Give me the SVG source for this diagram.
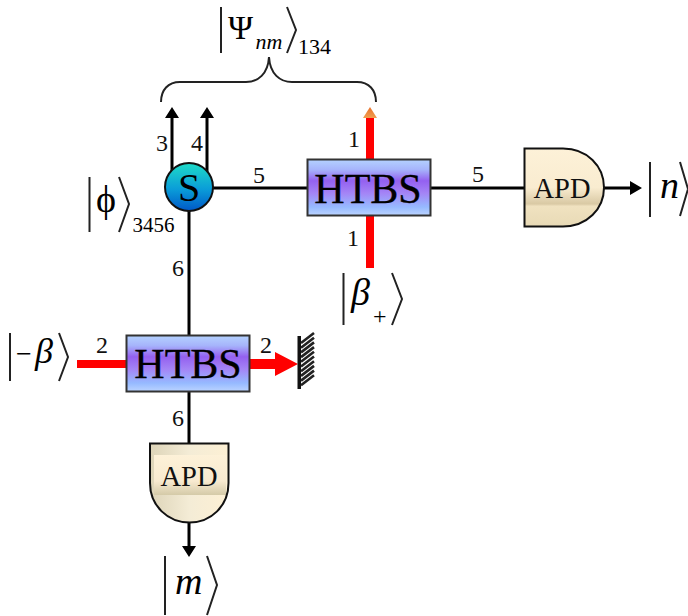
<svg xmlns="http://www.w3.org/2000/svg" width="688" height="616" viewBox="0 0 688 616">
<style>
text{font-family:"Liberation Serif","Times New Roman",serif;fill:#000}
.n{font-size:24px;text-anchor:middle;fill:#111}
.h{font-size:42px;text-anchor:middle;stroke:#000;stroke-width:.35}
.a{font-size:28.500px;text-anchor:middle;fill:#111}
.i{font-style:italic}
.w{fill:none;stroke:#000;stroke-width:3}
.k{fill:none;stroke:#222;stroke-width:2}
.r{fill:#f00;stroke:none}
.box{fill:url(#gh);stroke:#333;stroke-width:2}
.apd{fill:none;stroke:#111;stroke-width:2}
</style>
<defs>
<linearGradient id="gh" x1="0" y1="0" x2="0" y2="1">
<stop offset="0" stop-color="#b4d2ff"/><stop offset="0.18" stop-color="#a6b4fb"/><stop offset="0.38" stop-color="#9460f0"/><stop offset="0.6" stop-color="#a484f6"/><stop offset="0.85" stop-color="#96baff"/><stop offset="1" stop-color="#bcd4ff"/>
</linearGradient>
<linearGradient id="gs" x1="0" y1="0" x2="0" y2="1">
<stop offset="0" stop-color="#1fdcc8"/><stop offset="0.55" stop-color="#0a9cd8"/><stop offset="1" stop-color="#0058c8"/>
</linearGradient>
<linearGradient id="ga" x1="0" y1="0" x2="0" y2="1">
<stop offset="0" stop-color="#fdf1d8"/><stop offset="0.5" stop-color="#f9ecd0"/><stop offset="0.71" stop-color="#d9c9a4"/><stop offset="0.74" stop-color="#f0e2c0"/><stop offset="1" stop-color="#e8dab6"/>
</linearGradient>
<linearGradient id="gb" x1="0" y1="0" x2="1" y2="0">
<stop offset="0" stop-color="#ddd4b8"/><stop offset="0.5" stop-color="#f4ecd6"/><stop offset="1" stop-color="#fdf0d4"/>
</linearGradient>
<linearGradient id="gc" x1="0" y1="0" x2="0" y2="1">
<stop offset="0" stop-color="#fdf1d8"/><stop offset="0.65" stop-color="#f8ead0"/><stop offset="1" stop-color="#d4caa8"/>
</linearGradient>
<linearGradient id="go" x1="0" y1="0" x2="0" y2="1">
<stop offset="0" stop-color="#e8702a"/><stop offset="1" stop-color="#f0a050"/>
</linearGradient>
<clipPath id="cb"><path d="M150 443.500H228.500V483C228.500 506 211 522.500 189.500 522.500C168 522.500 150 506 150 483z"/></clipPath>
</defs>

<g id="connectors">
<path class="w" d="M172 172V116M207 172V116M213 188H307M430 188H524M189 211V335M189 392V443M189 523V548M604 188H632"/>
<path d="M172 107l7 11h-14zM207 107l7 11h-14zM642 188l-12 7v-14zM189 557l-7-11h14z" fill="#000"/>
<rect class="r" x="366" y="116" width="8" height="43"/>
<rect class="r" x="366" y="216" width="8" height="52"/>
<rect class="r" x="77" y="360" width="49" height="8"/>
<path class="r" d="M250 359H275V352L298 364 275 376V369H250z"/>
<path d="M370 107l7 11h-14z" fill="url(#go)"/>
<path class="k" d="M161 102C161 90 168 82 180 82H246C258 82 268 74 269 57C270 74 280 82 292 82H357C369 82 376 90 376 102"/>
</g>

<g id="mirror">
<path stroke="#222" stroke-width="2.600" fill="none" d="M301 343l13-10M301 347.700l13-10M301 352.400l13-10M301 357.100l13-10M301 361.800l13-10M301 366.500l13-10M301 371.200l13-10M301 375.900l13-10M301 380.600l13-10M301 385.300l13-10"/>
<rect x="297.500" y="336" width="3.500" height="53" fill="#111"/>
</g>

<g id="source">
<circle cx="189" cy="187" r="24" fill="url(#gs)" stroke="#111" stroke-width="2"/>
<text x="189" y="201" font-size="40" text-anchor="middle">S</text>
</g>

<g id="htbs1">
<rect class="box" x="307.500" y="159.500" width="123" height="56"/>
<text class="h" x="368" y="203">HTBS</text>
</g>

<g id="htbs2">
<rect class="box" x="126.500" y="335.500" width="123" height="56"/>
<text class="h" x="188" y="378">HTBS</text>
</g>

<g id="apd1">
<path fill="url(#ga)" d="M524.500 148.500H563C587 148.500 604 166 604 187.500C604 209 587 226.500 563 226.500H524.500z"/>
<path class="apd" d="M524.500 148.500H563C587 148.500 604 166 604 187.500C604 209 587 226.500 563 226.500H524.500z"/>
<text class="a" x="562" y="198">APD</text>
</g>

<g id="apd2">
<g clip-path="url(#cb)">
<rect x="150" y="443" width="79" height="80" fill="url(#gb)"/>
<rect x="154" y="455" width="72" height="40" fill="url(#gc)"/>
</g>
<path class="apd" d="M150 443.500H228.500V483C228.500 506 211 522.500 189.500 522.500C168 522.500 150 506 150 483z"/>
<text class="a" x="189" y="486">APD</text>
</g>

<g id="labels">
<text class="n" x="354" y="147">1</text>
<text class="n" x="353" y="246">1</text>
<text class="n" x="162" y="151">3</text>
<text class="n" x="197" y="151">4</text>
<text class="n" x="259" y="183">5</text>
<text class="n" x="478" y="182">5</text>
<text class="n" x="178" y="276">6</text>
<text class="n" x="178" y="426">6</text>
<text class="n" x="102" y="353">2</text>
<text class="n" x="266" y="353">2</text>
</g>

<g id="ket-psi">
<path class="k" d="M221 7V53M287 7L296 30 287 53"/>
<text x="228" y="39" font-size="34">Ψ</text>
<text class="i" x="255.500" y="49" font-size="22">nm</text>
<text x="298" y="54" font-size="22">134</text>
</g>
<g id="ket-phi">
<path class="k" d="M89.500 177V232M119 177L129 204 119 232"/>
<text x="96" y="212" font-size="38">ϕ</text>
<text x="132.500" y="232" font-size="21">3456</text>
</g>
<g id="ket-beta-plus">
<path class="k" d="M343.500 273V325M392 273L402 299 392 325"/>
<text class="i" x="351" y="305" font-size="38">β</text>
<text x="373" y="324" font-size="24">+</text>
</g>
<g id="ket-minus-beta">
<path class="k" d="M10 333V381M59 333L68 357 59 381"/>
<text x="16" y="363" font-size="28">−</text>
<text class="i" x="35" y="363" font-size="36">β</text>
</g>
<g id="ket-n">
<path class="k" d="M650 162V217M680 162L688 189 680 216"/>
<text class="i" x="660" y="198" font-size="38">n</text>
</g>
<g id="ket-m">
<path class="k" d="M165 556V615M207 556L217 585 207 615"/>
<text class="i" x="175" y="594" font-size="38">m</text>
</g>
</svg>
